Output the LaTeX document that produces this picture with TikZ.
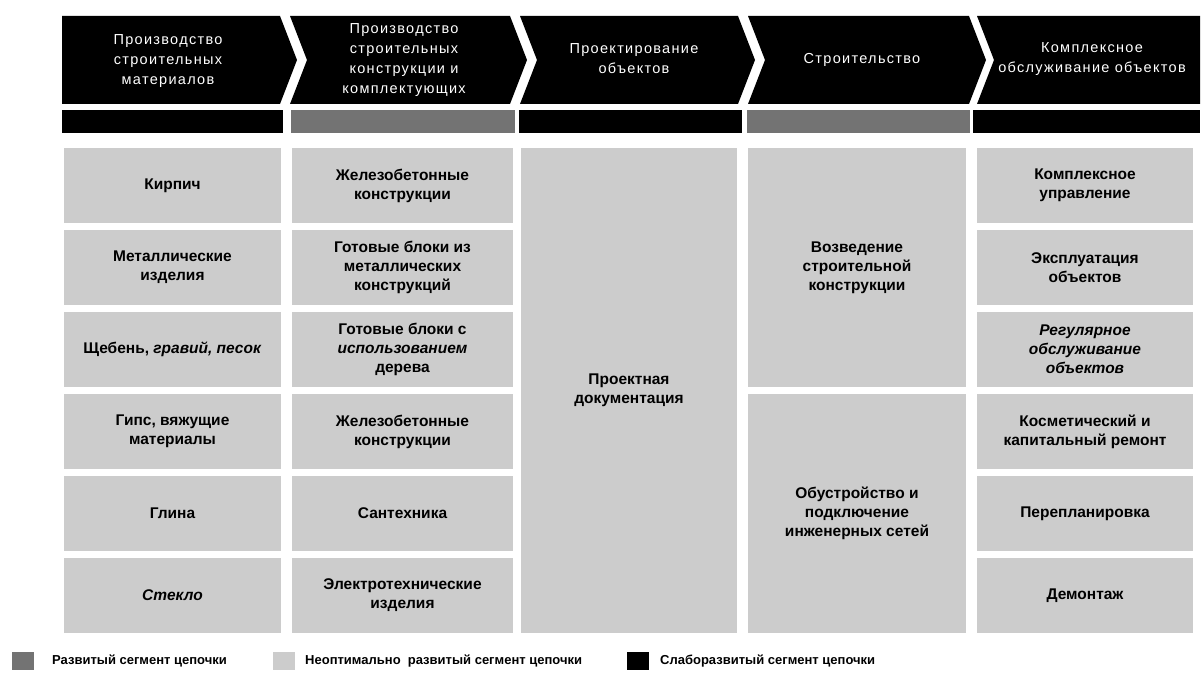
\documentclass[tikz,border=0pt]{standalone}
\usepackage{fontspec}
\setmainfont{Liberation Sans}
\newfontfamily\headfont[LetterSpace=9]{Liberation Sans}
\definecolor{devel}{gray}{0.45}
\definecolor{subopt}{gray}{0.80}
\begin{document}
\begin{tikzpicture}[x=1pt,y=-1pt,
  hdr/.style={fill=black,draw=none},
  hdrtext/.style={text=white,font=\headfont\fontsize{14.5}{20}\selectfont,align=center,inner sep=0pt},
  bar/.style={draw=none,minimum height=23pt,inner sep=0pt},
  cell/.style={fill=subopt,draw=none,minimum width=217pt,minimum height=75pt,inner sep=2pt,
    align=center,font=\bfseries\fontsize{15.5}{19}\selectfont},
  legsw/.style={draw=none,minimum width=22pt,minimum height=18pt,inner sep=0pt},
  legtext/.style={anchor=west,inner sep=0pt,font=\bfseries\fontsize{13}{15}\selectfont}]
\useasboundingbox (0,0) rectangle (1202,682);
% header chevrons
\fill[hdr] (62,16) -- (280,16) -- (297,60) -- (280,104) -- (62,104) -- cycle;
\fill[hdr] (290,16) -- (510,16) -- (527,60) -- (510,104) -- (290,104) -- (307,60) -- cycle;
\fill[hdr] (520,16) -- (738,16) -- (755,60) -- (738,104) -- (520,104) -- (537,60) -- cycle;
\fill[hdr] (748,16) -- (969,16) -- (986,60) -- (969,104) -- (748,104) -- (765,60) -- cycle;
\fill[hdr] (977,16) -- (1200,16) -- (1200,104) -- (977,104) -- (994,60) -- cycle;
\node[hdrtext] (h1) at (168,61) {Производство\\строительных\\материалов};
\node[hdrtext] (h2) at (404,60) {Производство\\строительных\\конструкции и\\комплектующих};
\node[hdrtext] (h3) at (634,59) {Проектирование\\объектов};
\node[hdrtext] (h4) at (862,60) {Строительство};
\node[hdrtext] (h5) at (1092,59) {Комплексное\\обслуживание объектов};
% bars
\node[bar,fill=black,minimum width=221pt] (b1) at (172.5,122) {};
\node[bar,fill=devel,minimum width=224pt] (b2) at (403,122) {};
\node[bar,fill=black,minimum width=223pt] (b3) at (630.5,122) {};
\node[bar,fill=devel,minimum width=223pt] (b4) at (858.5,122) {};
\node[bar,fill=black,minimum width=227pt] (b5) at (1086.5,122) {};
% column 1
\node[cell] (c11) at (172.5,185.5) {Кирпич};
\node[cell] (c12) at (172.5,267.5) {Металлические\\изделия};
\node[cell] (c13) at (172.5,349.5) {Щебень, \textit{гравий, песок}};
\node[cell] (c14) at (172.5,431.5) {Гипс, вяжущие\\материалы};
\node[cell] (c15) at (172.5,513.5) {Глина};
\node[cell] (c16) at (172.5,595.5) {\textit{Стекло}};
% column 2
\node[cell,minimum width=221pt] (c21) at (402.5,185.5) {Железобетонные\\конструкции};
\node[cell,minimum width=221pt] (c22) at (402.5,267.5) {Готовые блоки из\\металлических\\конструкций};
\node[cell,minimum width=221pt] (c23) at (402.5,349.5) {Готовые блоки с\\\textit{использованием}\\дерева};
\node[cell,minimum width=221pt] (c24) at (402.5,431.5) {Железобетонные\\конструкции};
\node[cell,minimum width=221pt] (c25) at (402.5,513.5) {Сантехника};
\node[cell,minimum width=221pt] (c26) at (402.5,595.5) {Электротехнические\\изделия};
% column 3
\node[cell,minimum width=216pt,minimum height=485pt] (c3) at (629,390.5) {Проектная\\документация};
% column 4
\node[cell,minimum width=218pt,minimum height=239pt] (c41) at (857,267.5) {Возведение\\строительной\\конструкции};
\node[cell,minimum width=218pt,minimum height=239pt] (c42) at (857,513.5) {Обустройство и\\подключение\\инженерных сетей};
% column 5
\node[cell,minimum width=216pt] (c51) at (1085,185.5) {Комплексное\\управление};
\node[cell,minimum width=216pt] (c52) at (1085,267.5) {Эксплуатация\\объектов};
\node[cell,minimum width=216pt] (c53) at (1085,349.5) {\textit{Регулярное}\\\textit{обслуживание}\\\textit{объектов}};
\node[cell,minimum width=216pt] (c54) at (1085,431.5) {Косметический и\\капитальный ремонт};
\node[cell,minimum width=216pt] (c55) at (1085,513.5) {Перепланировка};
\node[cell,minimum width=216pt] (c56) at (1085,595.5) {Демонтаж};
% legend
\node[legsw,fill=devel] (s1) at (23,661) {};
\node[legtext] (t1) at (52,661) {Развитый сегмент цепочки};
\node[legsw,fill=subopt] (s2) at (284,661) {};
\node[legtext] (t2) at (305,661) {Неоптимально\ \ развитый сегмент цепочки};
\node[legsw,fill=black] (s3) at (638,661) {};
\node[legtext] (t3) at (660,661) {Слаборазвитый сегмент цепочки};
\end{tikzpicture}
\end{document}
